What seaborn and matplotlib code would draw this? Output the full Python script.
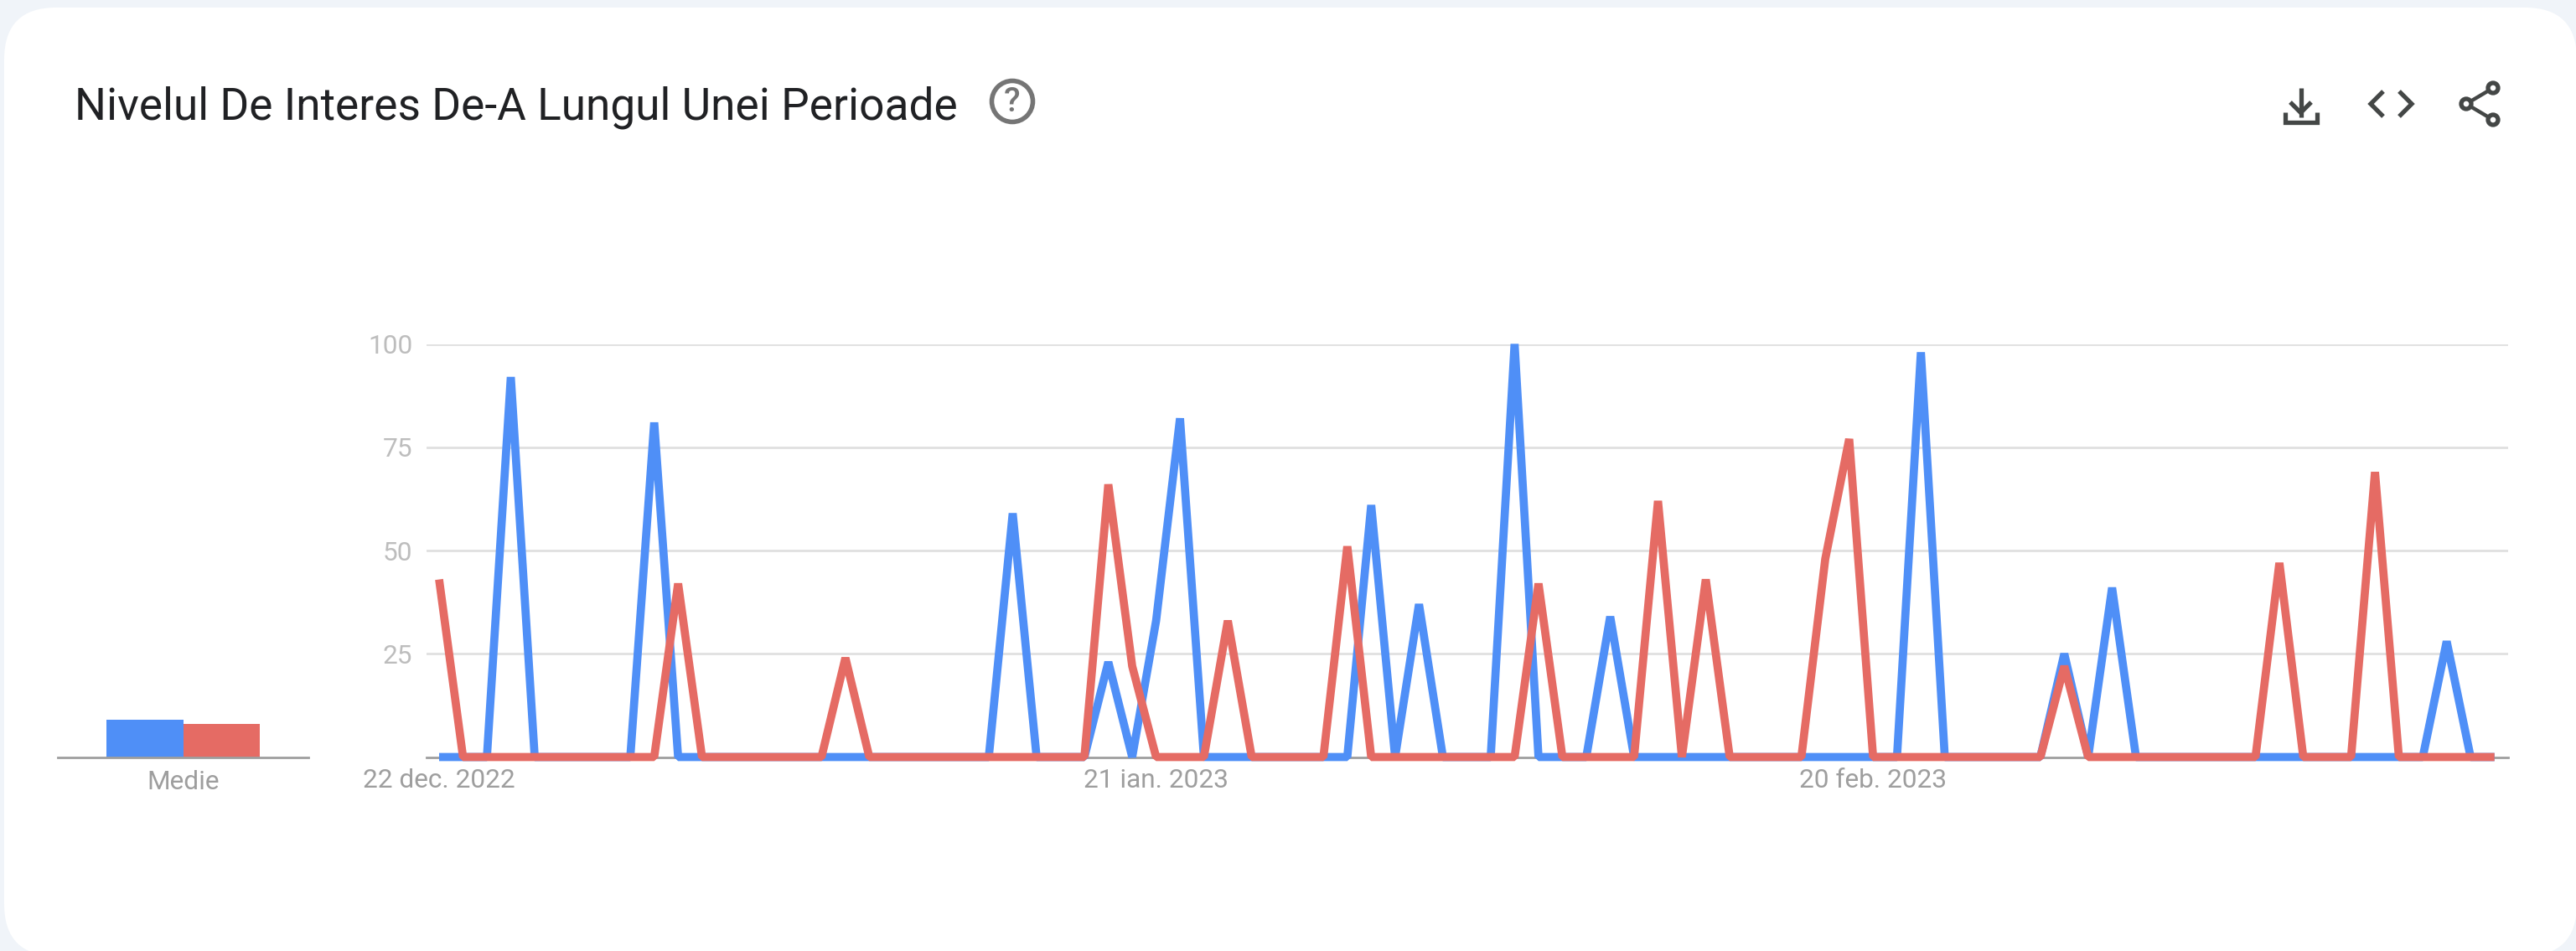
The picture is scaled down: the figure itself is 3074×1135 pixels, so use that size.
import matplotlib
matplotlib.use("Agg")
import matplotlib.pyplot as plt
from matplotlib.patches import FancyBboxPatch, Circle
import numpy as np
import pandas as pd
import seaborn as sns

TITLE = "Nivelul De Interes De-A Lungul Unei Perioade"
START_DATE = "2022-12-22"
SERIES = ["Termen 1", "Termen 2"]
BLUE = "#4f8ff7"
RED = "#e56b64"
blue_values = [0, 0, 0, 92, 0, 0, 0, 0, 0, 81, 0, 0, 0, 0, 0, 0, 0, 0, 0, 0, 0, 0, 0, 0, 59, 0, 0, 0, 23, 0,
               33, 82, 0, 0, 0, 0, 0, 0, 0, 61, 0, 37, 0, 0, 0, 100, 0, 0, 0, 34, 0, 0, 0, 0, 0, 0, 0, 0, 0, 0,
               0, 0, 98, 0, 0, 0, 0, 0, 25, 0, 41, 0, 0, 0, 0, 0, 0, 0, 0, 0, 0, 0, 0, 0, 28, 0, 0]
red_values = [43, 0, 0, 0, 0, 0, 0, 0, 0, 0, 42, 0, 0, 0, 0, 0, 0, 24, 0, 0, 0, 0, 0, 0, 0, 0, 0, 0, 66, 22,
              0, 0, 0, 33, 0, 0, 0, 0, 51, 0, 0, 0, 0, 0, 0, 0, 42, 0, 0, 0, 0, 62, 0, 43, 0, 0, 0, 0, 48, 77,
              0, 0, 0, 0, 0, 0, 0, 0, 22, 0, 0, 0, 0, 0, 0, 0, 0, 47, 0, 0, 0, 69, 0, 0, 0, 0, 0]
mean_values = [9, 8]
mean_label = ["Medie"]
y_ticks = [25, 50, 75, 100]
x_tick_dates = ["2022-12-22", "2023-01-21", "2023-02-20"]
x_tick_labels = ["22 dec. 2022", "21 ian. 2023", "20 feb. 2023"]

W, H = 3074, 1135
sns.set_theme(style="white")
plt.rcParams["font.family"] = ["Roboto", "DejaVu Sans"]

fig = plt.figure(figsize=(W / 100, H / 100), dpi=100, facecolor="#f0f4f9")


def axes_px(x0, y0, x1, y1, **kw):
    return fig.add_axes([x0 / W, 1 - y1 / H, (x1 - x0) / W, (y1 - y0) / H], **kw)


# Overlay for the card and toolbar
bg = axes_px(0, 0, W, H, zorder=0)
bg.set_xlim(0, W)
bg.set_ylim(H, 0)
bg.axis("off")
R = 62
bg.add_patch(FancyBboxPatch((5 + R, 9 + R), 3075 - 5 - 2 * R, 1141 - 9 - 2 * R,
                            boxstyle=f"round,pad={R},rounding_size={R}",
                            fc="white", ec="none"))
bg.text(89, 143, TITLE, fontsize=38.35, color="#202124", family=["Roboto", "DejaVu Sans"],
        va="baseline", ha="left")
bg.add_patch(Circle((1208, 121), 24.5, fc="none", ec="#757575", lw=4.0))
bg.text(1208, 122, "?", fontsize=29, color="#757575", ha="center", va="center", fontweight="medium")

ICON = "#444746"
kw = dict(color=ICON, lw=3.8, solid_capstyle="butt", solid_joinstyle="miter")
# download
bg.plot([2745.5, 2745.5], [105, 140], **kw)
bg.plot([2733, 2745.5, 2758], [122, 134.5, 122], **kw)
bg.plot([2726.5, 2726.5, 2730, 2761, 2764.5, 2764.5], [134, 145.5, 145.5, 145.5, 145.5, 134], **kw)
# embed code
bg.plot([2844, 2829, 2844], [109, 124, 139], **kw)
bg.plot([2863, 2878, 2863], [109, 124, 139], **kw)
# share
bg.plot([2975, 2943, 2975], [105, 124, 143], color=ICON, lw=3.2)
for cx, cy in [(2975, 105), (2943, 124), (2975, 143)]:
    bg.add_patch(Circle((cx, cy), 6, fc="white", ec=ICON, lw=3.8, zorder=5))

# Main time series
dates = pd.date_range(START_DATE, periods=len(blue_values), freq="D")
df = pd.DataFrame({
    "data": list(dates) * 2,
    "valoare": blue_values + red_values,
    "serie": [SERIES[0]] * len(blue_values) + [SERIES[1]] * len(red_values),
})

ax = axes_px(509, 410.6, 2993, 903.5, zorder=2)
ax.patch.set_alpha(0)
sns.lineplot(data=df, x="data", y="valoare", hue="serie", hue_order=SERIES, palette=[BLUE, RED],
             linewidth=7.0, legend=False, ax=ax, clip_on=False, zorder=3,
             solid_capstyle="butt", solid_joinstyle="bevel", estimator=None, sort=False)
first = pd.Timestamp(START_DATE)
ax.set_xlim(first - pd.Timedelta(days=15 / 28.52), first + pd.Timedelta(days=2469 / 28.52))
ax.set_ylim(0, 100)
ax.set_xlabel("")
ax.set_ylabel("")
for s in ["top", "left", "right"]:
    ax.spines[s].set_visible(False)
ax.spines["bottom"].set_color("#9e9e9e")
ax.spines["bottom"].set_linewidth(2)
ax.set_yticks(y_ticks)
ax.set_yticklabels([str(v) for v in y_ticks], fontsize=22.8, color="#bdbdbd")
ax.set_xticks(pd.to_datetime(x_tick_dates))
ax.set_xticklabels(x_tick_labels, fontsize=22.8, color="#9e9e9e")
ax.tick_params(axis="y", length=0, pad=12)
ax.tick_params(axis="x", length=0, pad=10)
ax.grid(axis="y", color="#e0e0e0", lw=2)
ax.set_axisbelow(True)

# Average bars
ax2 = axes_px(69, 410.6, 368, 903.5, zorder=2)
ax2.patch.set_alpha(0)
df2 = pd.DataFrame({"eticheta": mean_label * 2, "medie": mean_values, "serie": SERIES})
sns.barplot(data=df2, x="eticheta", y="medie", hue="serie", hue_order=SERIES, palette=[BLUE, RED],
            width=0.609, gap=0, saturation=1, legend=False, ax=ax2)
ax2.set_xlim(-0.5, 0.5)
ax2.set_ylim(0, 100)
ax2.set_xlabel("")
ax2.set_ylabel("")
ax2.set_yticks([])
for s in ["top", "left", "right"]:
    ax2.spines[s].set_visible(False)
ax2.spines["bottom"].set_color("#9e9e9e")
ax2.spines["bottom"].set_linewidth(2)
ax2.tick_params(axis="x", length=0, pad=11)
ax2.set_xticks([0])
ax2.set_xticklabels(mean_label, fontsize=22.8, color="#9e9e9e")
for p in ax2.patches:
    p.set_edgecolor("none")

fig.savefig("out.png", dpi=100, facecolor=fig.get_facecolor())
